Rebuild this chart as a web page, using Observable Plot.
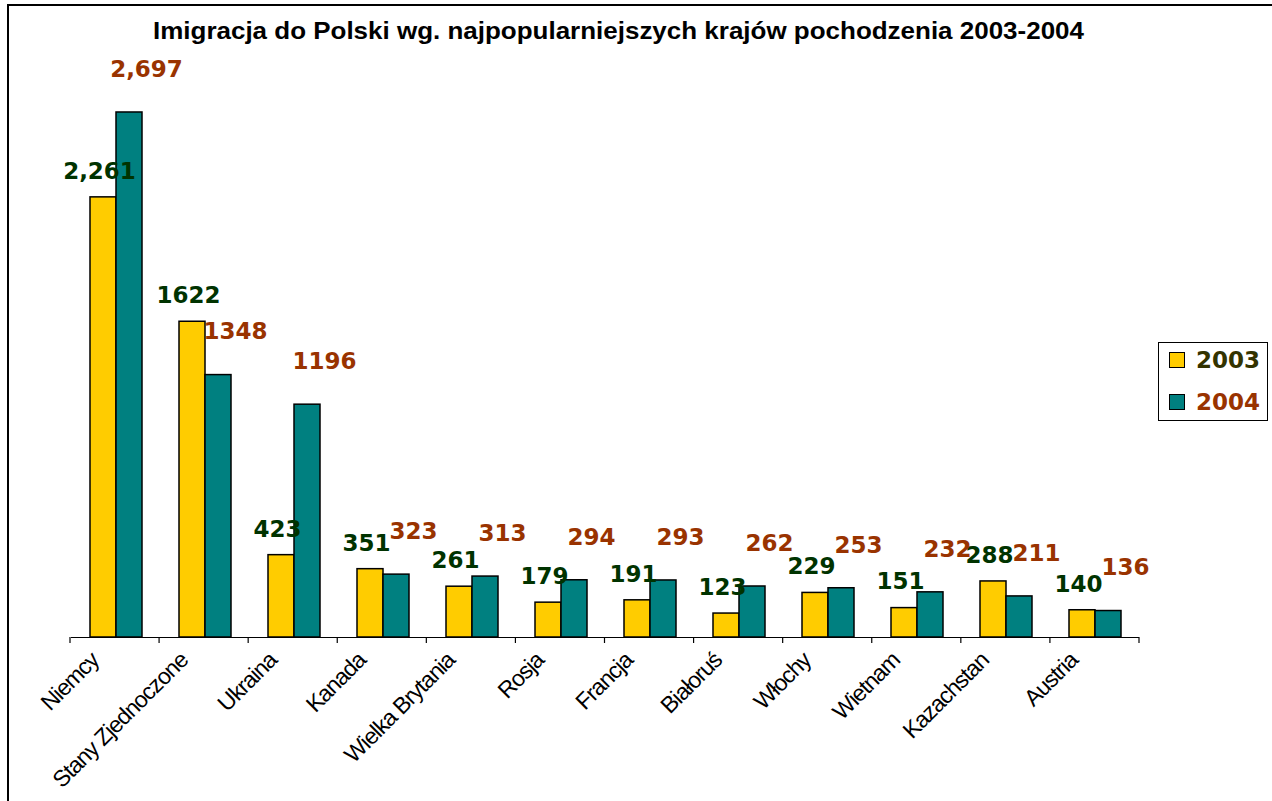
<!DOCTYPE html>
<html><head><meta charset="utf-8">
<script src="https://cdn.jsdelivr.net/npm/d3@7"></script>
<script src="https://cdn.jsdelivr.net/npm/@observablehq/plot@0.6"></script>
<style>
html,body{margin:0;padding:0;background:#fff;}
#wrap{position:relative;width:1272px;height:801px;overflow:hidden;font-family:"Liberation Sans",Arial,sans-serif;}
#frame{position:absolute;left:7px;top:4px;width:1400px;height:900px;border-left:2px solid #000;border-top:2px solid #000;box-sizing:border-box;}
#chart{position:absolute;left:0;top:0;}
#legend{position:absolute;left:1158px;top:342px;width:110px;height:79px;border:1px solid #000;background:#fff;box-sizing:border-box;}
.li{position:absolute;left:10px;display:flex;align-items:center;font-family:"DejaVu Sans",sans-serif;font-weight:bold;font-size:23px;height:24px;}
.sw{width:14px;height:14px;border:1.5px solid #000;margin-right:11px;}
</style></head>
<body>
<div id="wrap"><div id="frame"></div><div id="chart"></div><div id="legend"></div></div>
<script>
const title = "Imigracja do Polski wg. najpopularniejszych krajów pochodzenia 2003-2004";
const countries = ["Niemcy","Stany Zjednoczone","Ukraina","Kanada","Wielka Brytania","Rosja","Francja","Białoruś","Włochy","Wietnam","Kazachstan","Austria"];
const years = ["2003","2004"];
const values2003 = [2261,1622,423,351,261,179,191,123,229,151,288,140];
const values2004 = [2697,1348,1196,323,313,294,293,262,253,232,211,136];
const labels2003 = ["2,261","1622","423","351","261","179","191","123","229","151","288","140"];
const labels2004 = ["2,697","1348","1196","323","313","294","293","262","253","232","211","136"];
const barColors = ["#FFCC00","#008080"];
const labelColors = ["#003300","#993300"];
const legendColors = ["#333300","#993300"];

const rows = countries.flatMap((c,i)=>[
  {country:c, year:years[0], value:values2003[i], label:labels2003[i]},
  {country:c, year:years[1], value:values2004[i], label:labels2004[i]}
]);

const plot = Plot.plot({
  width:1272, height:801,
  marginLeft:70, marginRight:133, marginTop:53, marginBottom:164,
  fx:{domain:countries, padding:0, label:null},
  x:{domain:years, paddingInner:0, paddingOuter:0.71, axis:null},
  y:{domain:[0,3000], axis:null},
  color:{domain:years, range:barColors},
  style:{fontFamily:"Liberation Sans, Arial, sans-serif", background:"transparent", overflow:"visible"},
  marks:[
    Plot.barY(rows,{fx:"country", x:"year", y:"value", fill:"year", stroke:"#000", strokeWidth:1.5}),
    Plot.ruleY([0],{stroke:"#000", strokeWidth:1.2}),
    Plot.text(rows.filter(d=>d.year===years[0]),{fx:"country", x:"year", y:"value", text:"label", dx:-4, dy:-26, fill:labelColors[0], fontSize:23, fontWeight:"bold", fontFamily:"DejaVu Sans, sans-serif"}),
    Plot.text(rows.filter(d=>d.year===years[1]),{fx:"country", x:"year", y:"value", text:"label", dx:17, dy:-43, fill:labelColors[1], fontSize:23, fontWeight:"bold", fontFamily:"DejaVu Sans, sans-serif"}),
    Plot.axisFx({anchor:"bottom", tickRotate:-45, tickSize:0, tickPadding:19, dx:-21, label:null, fontSize:23, fill:"#000"})
  ]
});
document.getElementById("chart").appendChild(plot);

const svg = d3.select(plot);
const fx = plot.scale("fx");
const y0 = plot.scale("y").apply(0);
const step = (fx.range[1]-fx.range[0])/countries.length;
const tg = svg.append("g").attr("stroke","#000").attr("stroke-width",1.2);
for (let i=0;i<=countries.length;i++){
  const xx = fx.range[0] + i*step;
  tg.append("line").attr("x1",xx).attr("x2",xx).attr("y1",y0).attr("y2",y0+6);
}
svg.selectAll("g[aria-label='fx-axis tick label'] text").style("letter-spacing","-1px");
// clip axis labels like the original (wrapper group so the clip is in page coordinates)
svg.append("defs").append("clipPath").attr("id","axclip").append("rect").attr("x",0).attr("y",y0+12).attr("width",1272).attr("height",801);
svg.selectAll("g[aria-label='fx-axis tick label']").each(function(){
  const wrap = document.createElementNS("http://www.w3.org/2000/svg","g");
  wrap.setAttribute("clip-path","url(#axclip)");
  this.parentNode.insertBefore(wrap, this);
  wrap.appendChild(this);
});

svg.append("text").text(title).attr("x",618.5).attr("y",39).attr("text-anchor","middle")
  .attr("font-size",24).attr("font-weight","bold").attr("font-family","Liberation Sans, Arial, sans-serif")
  .attr("textLength",931).attr("lengthAdjust","spacingAndGlyphs").attr("fill","#000");

const leg = document.getElementById("legend");
years.forEach((yr,i)=>{
  const d = document.createElement("div");
  d.className="li"; d.style.color = legendColors[i];
  d.style.top = (i===0 ? 5 : 47)+"px";
  const s = document.createElement("div"); s.className="sw"; s.style.background = barColors[i];
  d.appendChild(s); d.appendChild(document.createTextNode(yr));
  leg.appendChild(d);
});
</script>
</body></html>
